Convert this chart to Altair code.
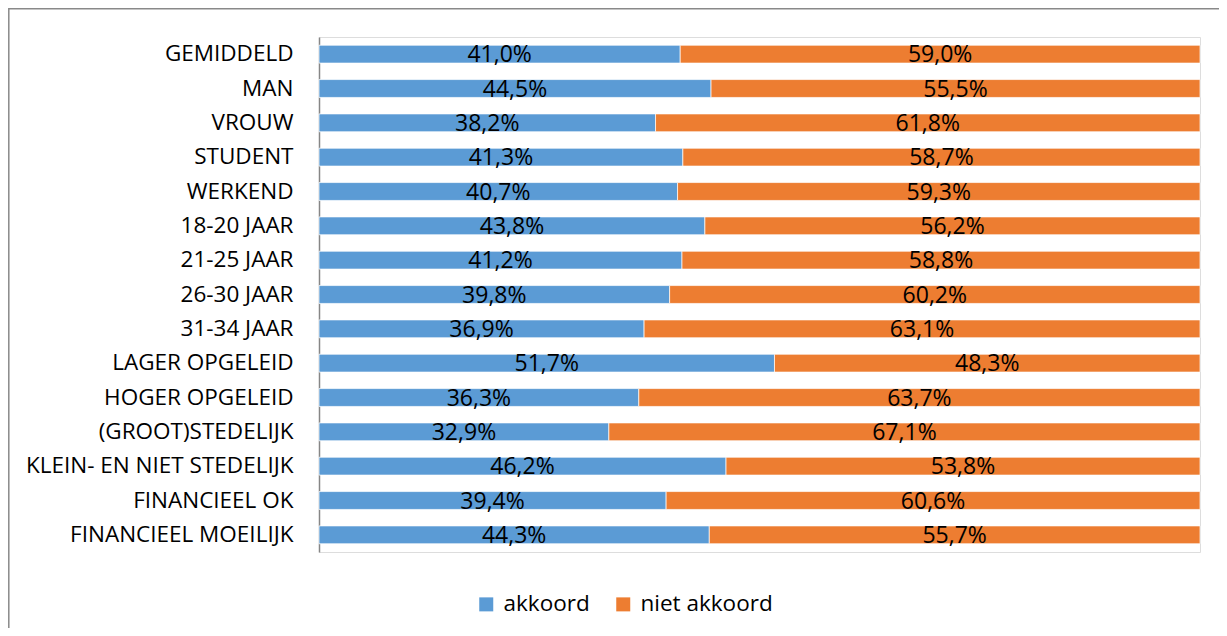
import altair as alt
import pandas as pd

categories = ["GEMIDDELD", "MAN", "VROUW", "STUDENT", "WERKEND", "18-20 JAAR",
              "21-25 JAAR", "26-30 JAAR", "31-34 JAAR", "LAGER OPGELEID",
              "HOGER OPGELEID", "(GROOT)STEDELIJK", "KLEIN- EN NIET STEDELIJK",
              "FINANCIEEL OK", "FINANCIEEL MOEILIJK"]
akkoord = [41.0, 44.5, 38.2, 41.3, 40.7, 43.8, 41.2, 39.8, 36.9, 51.7, 36.3, 32.9, 46.2, 39.4, 44.3]
niet_akkoord = [59.0, 55.5, 61.8, 58.7, 59.3, 56.2, 58.8, 60.2, 63.1, 48.3, 63.7, 67.1, 53.8, 60.6, 55.7]
series = ["akkoord", "niet akkoord"]
colors = ["#5B9BD5", "#ED7D31"]

rows = []
for c, a, n in zip(categories, akkoord, niet_akkoord):
    rows.append({"cat": c, "serie": "akkoord", "value": a, "start": 0.0, "end": a})
    rows.append({"cat": c, "serie": "niet akkoord", "value": n, "start": a, "end": a + n})
df = pd.DataFrame(rows)
df["mid"] = (df["start"] + df["end"]) / 2
df["label"] = df["value"].map(lambda v: f"{v:.1f}%".replace(".", ","))

FONT = "Open Sans"
FS_AXIS = 22.5
FS = 23
FS_LEG = 22.5

y_enc = alt.Y("cat:N", sort=categories,
              scale=alt.Scale(paddingInner=0.48, paddingOuter=0.24),
              axis=alt.Axis(title=None, ticks=False, labelPadding=26, labelLimit=0,
                            labelFont=FONT, labelFontSize=FS_AXIS, labelColor="#000000",
                            domainColor="#868686", domainWidth=1.5, grid=False))

bars = alt.Chart(df).mark_bar(stroke="#ffffff", strokeWidth=0.7).encode(
    x=alt.X("start:Q", scale=alt.Scale(domain=[0, 100], nice=False, zero=True), axis=None),
    x2="end:Q",
    y=y_enc,
    color=alt.Color("serie:N", scale=alt.Scale(domain=series, range=colors),
                    legend=alt.Legend(title=None, orient="none", direction="horizontal",
                                      legendX=156, legendY=556, padding=0,
                                      symbolType="square", symbolSize=196,
                                      symbolStrokeWidth=0, labelFont=FONT,
                                      labelFontSize=FS_LEG, labelColor="#000000",
                                      labelOffset=6, columnPadding=22, labelLimit=0)),
)

texts = alt.Chart(df).mark_text(font=FONT, fontSize=FS, color="#000000",
                                baseline="middle", dy=1).encode(
    x=alt.X("mid:Q"),
    y=alt.Y("cat:N", sort=categories),
    text="label:N",
)

border = alt.Chart(pd.DataFrame({"k": [0]})).mark_rect(
    fill=None, stroke="#898989", strokeWidth=1.5).encode(
    x=alt.value(-310.2), x2=alt.value(920),
    y=alt.value(-28.2), y2=alt.value(620),
)

chart = alt.layer(bars, texts, border).properties(
    width=881, height=515,
    autosize=alt.AutoSizeParams(type="none"),
    padding={"left": 311, "top": 29, "right": 19, "bottom": 76},
).configure_view(stroke=None).configure(background="#ffffff")

chart.save("out.html", embed_options={"renderer": "svg", "actions": False})
